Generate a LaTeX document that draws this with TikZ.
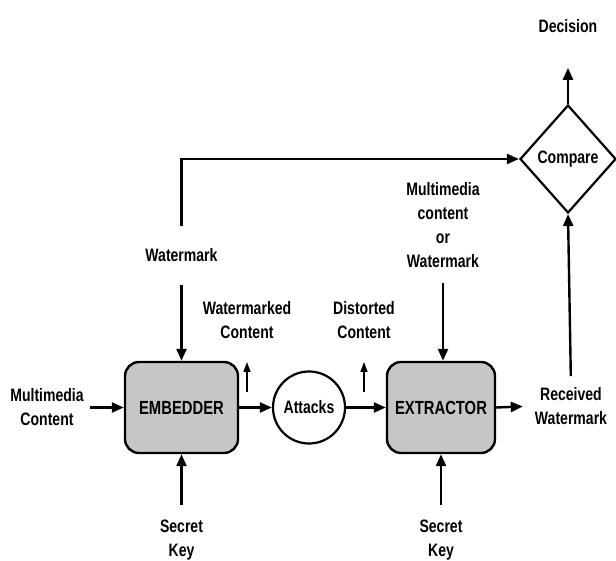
\documentclass[tikz,border=0pt]{standalone}
\usepackage{fontspec}
\setmainfont{Liberation Sans}[FakeStretch=0.78]
\usetikzlibrary{shapes.geometric,arrows.meta,calc}
\definecolor{boxgray}{RGB}{198,198,198}
\begin{document}
\begin{tikzpicture}[x=1pt,y=-1pt,
  lbl/.style={font=\bfseries\fontsize{18}{24}\selectfont, align=center, inner sep=0pt},
  proc/.style={draw, line width=2.4pt, fill=boxgray, rounded corners=14pt, font=\bfseries\fontsize{19}{22}\selectfont},
  arr/.style={line width=2.4pt, -{Triangle[length=12pt,width=10pt]}},
  arrs/.style={line width=1.6pt, -{Triangle[length=10pt,width=7pt]}}]
\useasboundingbox (0,0) rectangle (616,561);
% blocks
\node[proc, minimum width=113pt, minimum height=91pt] (emb) at (181.5,407.5) {EMBEDDER};
\node[circle, draw, line width=2.2pt, minimum size=72pt, inner sep=0pt, font=\bfseries\fontsize{18}{22}\selectfont] (att) at (309,407.5) {Attacks};
\node[proc, minimum width=108pt, minimum height=91pt] (ext) at (441,407.5) {EXTRACTOR};
\node[diamond, draw, line width=2.2pt, minimum width=96pt, minimum height=108pt, inner sep=0pt, font=\bfseries\fontsize{18}{22}\selectfont] (cmp) at (568,159) {Compare};
% labels
\node[lbl] (mc) at (47,407.5) {Multimedia\\Content};
\node[lbl] (wm) at (181.5,255) {Watermark};
\node[lbl] (wc) at (247,320) {Watermarked\\Content};
\node[lbl] (dc) at (364,320) {Distorted\\Content};
\node[lbl] (mw) at (443,225) {Multimedia\\content\\or\\Watermark};
\node[lbl] (sk1) at (181.5,540) {Secret\\Key};
\node[lbl] (sk2) at (441,540) {Secret\\Key};
\node[lbl] (rw) at (571,406) {Received\\Watermark};
\node[lbl] (dec) at (568,26) {Decision};
% free-end coordinates
\coordinate (wca) at (247,392);
\coordinate (wct) at (247,362);
\coordinate (dca) at (364,392);
\coordinate (dct) at (364,362);
% connectors
\draw[arr, shorten <=6pt] (mc.east) -- (emb.west);
\draw[arr] (emb.east) -- (att.west);
\draw[arr] (att.east) -- (ext.west);
\draw[arr, shorten >=12pt] (ext.east) -- (rw.west);
\draw[arr, shorten <=22pt] (wm.north) |- (cmp.west);
\draw[arr, shorten <=23pt] (wm.south) -- (emb.north);
\draw[arr, shorten <=15pt] (mw.south) -- (mw.south |- ext.north);
\draw[arr, shorten <=15pt] (sk1.north) -- (emb.south);
\draw[arr, shorten <=15pt] (sk2.north) -- (ext.south);
\draw[arr, shorten <=11pt] (rw.north) -- (cmp.south);
\draw[arr, shorten >=35pt] (cmp.north) -- (dec.south);
\draw[arrs] (wca) -- (wct);
\draw[arrs] (dca) -- (dct);
\end{tikzpicture}
\end{document}
